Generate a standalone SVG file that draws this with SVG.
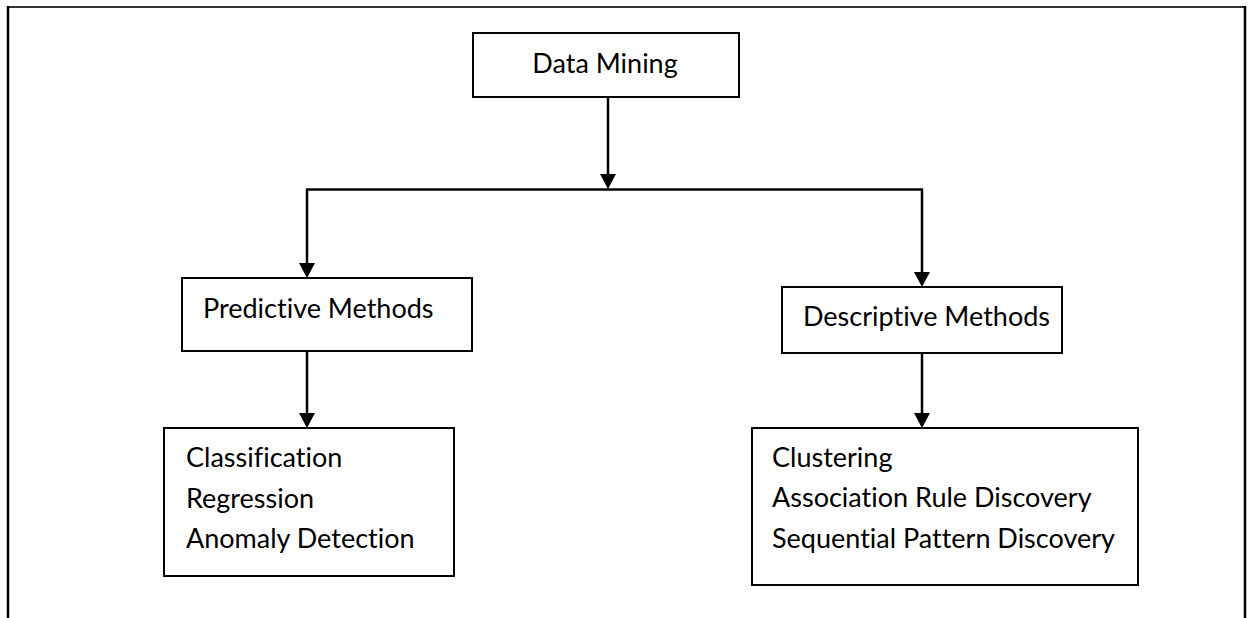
<svg xmlns="http://www.w3.org/2000/svg" width="1249" height="618" viewBox="0 0 1249 618">
  <style>
    .box { fill: #ffffff; stroke: #000000; stroke-width: 2; }
    .label { font-family: Lato, "Liberation Sans", Arial, sans-serif; font-size: 27px; fill: #000000; font-variant-ligatures: none; }
    .wire { fill: none; stroke: #000000; stroke-width: 2.5; }
    .frame { fill: none; stroke: #000000; stroke-width: 2.5; }
  </style>
  <defs>
    <!-- filled arrowhead; the tip sits 8 units past the end of the line -->
    <marker id="arrow" viewBox="0 0 15 16" refX="7" refY="8" markerWidth="15" markerHeight="16" markerUnits="userSpaceOnUse" orient="auto">
      <path d="M0,0 L15,8 L0,16 Z" fill="#000000"/>
    </marker>
  </defs>

  <rect width="1249" height="618" fill="#ffffff"/>

  <!-- page frame, open at the bottom -->
  <g id="frame">
    <line x1="8" y1="7" x2="1245" y2="7" stroke="#333333" stroke-width="2"/>
    <line class="frame" x1="8" y1="6" x2="8" y2="618"/>
    <line class="frame" x1="1245" y1="6" x2="1245" y2="618"/>
  </g>

  <!-- connectors -->
  <g id="connectors">
    <line class="wire" x1="608" y1="97" x2="608" y2="181" marker-end="url(#arrow)"/>
    <line class="wire" x1="306" y1="189.5" x2="923" y2="189.5" stroke-width="3"/>
    <line class="wire" x1="307" y1="189" x2="307" y2="270" marker-end="url(#arrow)"/>
    <line class="wire" x1="922" y1="189" x2="922" y2="279" marker-end="url(#arrow)"/>
    <line class="wire" x1="307" y1="351" x2="307" y2="420" marker-end="url(#arrow)"/>
    <line class="wire" x1="922" y1="353" x2="922" y2="420" marker-end="url(#arrow)"/>
  </g>

  <g id="data-mining">
    <rect class="box" x="473" y="33" width="266" height="64"/>
    <text class="label" x="605" y="73" text-anchor="middle">Data Mining</text>
  </g>

  <g id="predictive-methods">
    <rect class="box" x="182" y="278" width="290" height="73"/>
    <text class="label" x="203" y="318">Predictive Methods</text>
  </g>

  <g id="descriptive-methods">
    <rect class="box" x="782" y="287" width="280" height="66"/>
    <text class="label" x="803" y="326">Descriptive Methods</text>
  </g>

  <g id="predictive-tasks">
    <rect class="box" x="164" y="428" width="290" height="148"/>
    <text class="label" x="186" y="467">Classification</text>
    <text class="label" x="186" y="508">Regression</text>
    <text class="label" x="186" y="548">Anomaly Detection</text>
  </g>

  <g id="descriptive-tasks">
    <rect class="box" x="752" y="428" width="386" height="157"/>
    <text class="label" x="772" y="467">Clustering</text>
    <text class="label" x="772" y="507">Association Rule Discovery</text>
    <text class="label" x="772" y="548">Sequential Pattern Discovery</text>
  </g>
</svg>
